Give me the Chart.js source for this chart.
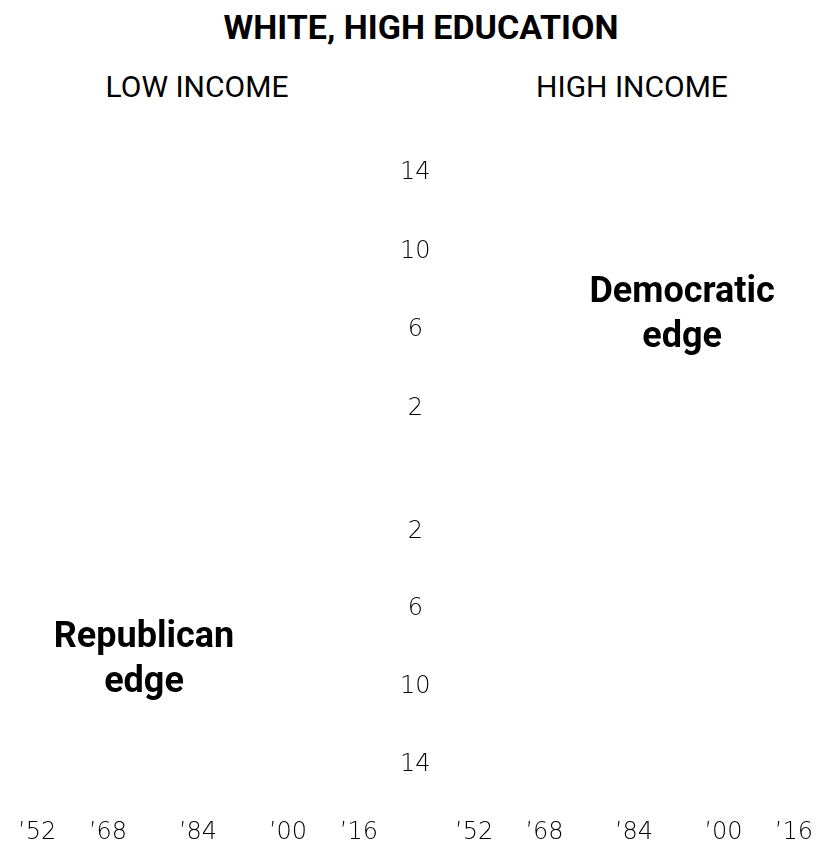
<!DOCTYPE html>
<html>
<head>
<meta charset="utf-8">
<title>White, high education</title>
<script src="https://cdn.jsdelivr.net/npm/chart.js@4.4.1/dist/chart.umd.min.js"></script>
<style>
  html, body { margin: 0; padding: 0; background: #fff; }
  #wrap { position: relative; width: 818px; height: 848px; overflow: hidden; font-family: Roboto, 'Noto Sans', sans-serif; color: #000; }
  #title { position: absolute; left: 12px; width: 818px; top: 7px; text-align: center; font-weight: 700; font-size: 34px; line-height: 40px; }
  .panel-title { position: absolute; top: 70px; width: 360px; text-align: center; font-size: 30px; line-height: 34px; }
  #leftTitle { left: 17px; }
  #rightTitle { left: 452px; }
  canvas { position: absolute; top: 0; }
  #leftChart { left: 0; }
  #rightChart { left: 439px; }
</style>
</head>
<body>
<div id="wrap">
  <div id="title"></div>
  <div class="panel-title" id="leftTitle"></div>
  <div class="panel-title" id="rightTitle"></div>
  <canvas id="leftChart" width="455" height="848"></canvas>
  <canvas id="rightChart" width="390" height="848"></canvas>
</div>
<script>
// Chart text and tick values
const chartTitle = 'WHITE, HIGH EDUCATION';
const panelTitles = ['LOW INCOME', 'HIGH INCOME'];
const yearTicks = [1952, 1968, 1984, 2000, 2016];
const marginTicks = [2, 6, 10, 14];
const edgeTexts = {
  democratic: ['Democratic', 'edge'],
  republican: ['Republican', 'edge'],
};

document.getElementById('title').textContent = chartTitle;
document.getElementById('leftTitle').textContent = panelTitles[0];
document.getElementById('rightTitle').textContent = panelTitles[1];

const tickFont = { family: "'DejaVu Sans', Lato, sans-serif", size: 24, weight: 200 };
const tickColor = '#000';

// Draws the bold "edge" labels at a spot given in axis values
const edgeLabels = {
  id: 'edgeLabels',
  afterDraw(chart, args, opts) {
    const ctx = chart.ctx;
    (opts.items || []).forEach((item) => {
      const x = chart.scales[item.xAxis].getPixelForValue(item.x);
      const y = chart.scales[item.yAxis].getPixelForValue(item.y);
      ctx.save();
      ctx.font = 'bold 36px Roboto, sans-serif';
      ctx.fillStyle = '#000';
      ctx.textAlign = 'center';
      ctx.textBaseline = 'alphabetic';
      item.lines.forEach((line, i) => ctx.fillText(line, x, y + i * 45));
      ctx.restore();
    });
  },
};

function xScale() {
  return {
    type: 'linear',
    position: 'bottom',
    min: yearTicks[0],
    max: yearTicks[yearTicks.length - 1],
    grid: { display: false, drawTicks: false },
    border: { display: false },
    afterBuildTicks: (scale) => {
      scale.ticks = yearTicks.map((v) => ({ value: v }));
    },
    afterFit: (scale) => {
      scale.height = 44;
    },
    ticks: {
      align: 'inner',
      autoSkip: false,
      maxRotation: 0,
      padding: 14,
      font: tickFont,
      color: tickColor,
      callback: (v) => '\u2019' + String(v).slice(2),
    },
  };
}

function yScale(reverse, showLabels) {
  return {
    type: 'linear',
    position: 'right',
    stack: 'margin',
    stackWeight: 1,
    reverse: reverse,
    min: reverse ? -1.2 : -1.1,
    max: 16,
    grid: { display: false, drawTicks: false },
    border: { display: false },
    afterBuildTicks: (scale) => {
      scale.ticks = marginTicks.map((v) => ({ value: v }));
    },
    afterFit: (scale) => {
      scale.width = showLabels ? 77 : 0;
    },
    ticks: {
      display: showLabels,
      crossAlign: 'center',
      padding: 22,
      font: tickFont,
      color: tickColor,
    },
  };
}

function makeChart(id, showLabels, padding, items) {
  return new Chart(document.getElementById(id), {
    type: 'scatter',
    data: { datasets: [] },
    options: {
      responsive: false,
      animation: false,
      layout: { padding: padding },
      scales: {
        x: xScale(),
        yTop: yScale(false, showLabels),
        yBottom: yScale(true, showLabels),
      },
      plugins: {
        legend: { display: false },
        tooltip: { enabled: false },
        edgeLabels: { items: items },
      },
    },
    plugins: [edgeLabels],
  });
}

makeChart('leftChart', true, { left: 18, top: 134, right: 0, bottom: 0 }, [
  { lines: edgeTexts.republican, xAxis: 'x', yAxis: 'yBottom', x: 1974.4, y: 7.95 },
]);

makeChart('rightChart', false, { left: 16, top: 134, right: 16, bottom: 0 }, [
  { lines: edgeTexts.democratic, xAxis: 'x', yAxis: 'yTop', x: 1992.6, y: 7.4 },
]);
</script>
</body>
</html>
